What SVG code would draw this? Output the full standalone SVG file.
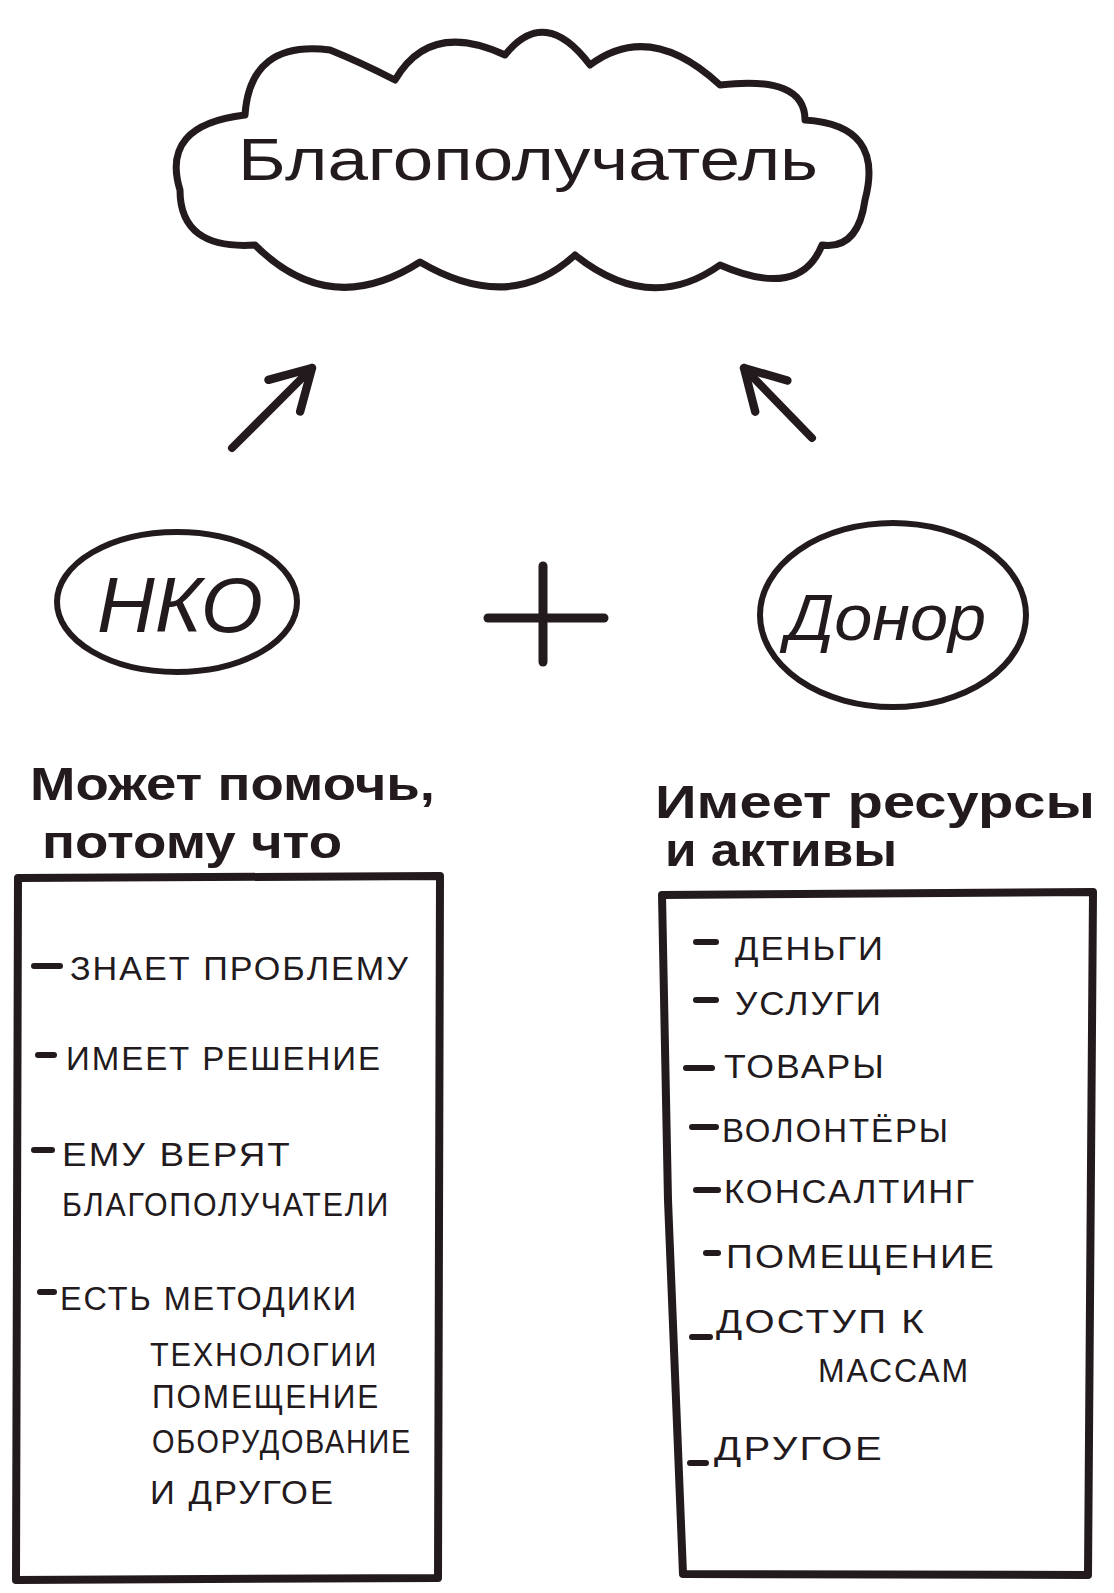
<svg xmlns="http://www.w3.org/2000/svg" width="1114" height="1593" viewBox="0 0 1114 1593">
<defs>
<style>
.ink{fill:none;stroke:#221a1d;stroke-linecap:round;stroke-linejoin:round}
.t{font-family:"Liberation Sans","DejaVu Sans",sans-serif;fill:#221a1d}
.item{font-size:34px;letter-spacing:2px}
.head{font-size:46px;font-weight:bold}
.dash{stroke:#221a1d;stroke-width:6;stroke-linecap:round}
</style>
<marker id="ah" viewBox="0 0 20 20" refX="16" refY="10" markerWidth="7" markerHeight="7" orient="auto" markerUnits="strokeWidth">
<path d="M2,2 L16,10 L2,18" fill="none" stroke="#221a1d" stroke-width="3" stroke-linecap="round" stroke-linejoin="round"/>
</marker>
</defs>
<rect width="1114" height="1593" fill="#ffffff"/>

<g id="cloud">
<path class="ink" stroke-width="7" d="M180,190 Q160,125 245,115 Q250,40 330,50 Q360,62 395,80 Q430,20 505,55 Q545,5 590,65 Q650,20 720,85 Q805,75 805,120 Q885,125 865,200 Q858,250 822,245 Q800,300 720,265 Q650,315 575,255 Q510,315 420,262 Q330,320 255,245 Q180,250 180,190 Z"/>
<text class="t" x="238" y="180" font-size="60" textLength="580" lengthAdjust="spacingAndGlyphs">Благополучатель</text>
</g>

<g id="connectors">
<line class="ink" stroke-width="8" x1="232" y1="448" x2="312" y2="368" marker-end="url(#ah)"/>
<line class="ink" stroke-width="8" x1="812" y1="438" x2="744" y2="368" marker-end="url(#ah)"/>
</g>

<g id="nko">
<ellipse class="ink" stroke-width="6" cx="177" cy="602" rx="120" ry="70"/>
<text class="t" x="97" y="632" font-size="78" textLength="166" lengthAdjust="spacingAndGlyphs" font-style="italic">НКО</text>
</g>

<g id="plus">
<line class="ink" stroke-width="9" x1="488" y1="618" x2="604" y2="618"/>
<line class="ink" stroke-width="9" x1="543" y1="566" x2="543" y2="662"/>
</g>

<g id="donor">
<ellipse class="ink" stroke-width="6" cx="893" cy="615" rx="133" ry="92"/>
<text class="t" x="786" y="640" font-size="64" textLength="200" lengthAdjust="spacingAndGlyphs" font-style="italic">Донор</text>
</g>

<g id="left-list">
<text class="t head" x="30" y="800" textLength="405" lengthAdjust="spacingAndGlyphs">Может помочь,</text>
<text class="t head" x="42" y="858" textLength="300" lengthAdjust="spacingAndGlyphs">потому что</text>
<path class="ink" stroke-width="8" d="M18,878 L440,876 L438,1578 L16,1580 Z"/>
<line class="dash" x1="34" y1="966" x2="60" y2="966"/>
<text class="t item" x="70" y="980" textLength="340" lengthAdjust="spacingAndGlyphs">ЗНАЕТ ПРОБЛЕМУ</text>
<line class="dash" x1="38" y1="1055" x2="54" y2="1055"/>
<text class="t item" x="66" y="1070" textLength="316" lengthAdjust="spacingAndGlyphs">ИМЕЕТ РЕШЕНИЕ</text>
<line class="dash" x1="34" y1="1150" x2="52" y2="1150"/>
<text class="t item" x="62" y="1166" textLength="230" lengthAdjust="spacingAndGlyphs">ЕМУ ВЕРЯТ</text>
<text class="t item" x="62" y="1216" textLength="328" lengthAdjust="spacingAndGlyphs">БЛАГОПОЛУЧАТЕЛИ</text>
<line class="dash" x1="40" y1="1292" x2="54" y2="1292"/>
<text class="t item" x="60" y="1310" textLength="298" lengthAdjust="spacingAndGlyphs">ЕСТЬ МЕТОДИКИ</text>
<text class="t item" x="150" y="1366" textLength="228" lengthAdjust="spacingAndGlyphs">ТЕХНОЛОГИИ</text>
<text class="t item" x="152" y="1408" textLength="228" lengthAdjust="spacingAndGlyphs">ПОМЕЩЕНИЕ</text>
<text class="t item" x="152" y="1453" textLength="260" lengthAdjust="spacingAndGlyphs">ОБОРУДОВАНИЕ</text>
<text class="t item" x="150" y="1504" textLength="185" lengthAdjust="spacingAndGlyphs">И ДРУГОЕ</text>
</g>

<g id="right-list">
<text class="t head" x="655" y="818" textLength="440" lengthAdjust="spacingAndGlyphs">Имеет ресурсы</text>
<text class="t head" x="665" y="866" textLength="232" lengthAdjust="spacingAndGlyphs">и активы</text>
<path class="ink" stroke-width="8" d="M662,895 L1093,892 L1088,1575 L683,1574 L668,1200 Z"/>
<line class="dash" x1="696" y1="942" x2="716" y2="942"/>
<text class="t item" x="735" y="960" textLength="150" lengthAdjust="spacingAndGlyphs">ДЕНЬГИ</text>
<line class="dash" x1="696" y1="1000" x2="716" y2="1000"/>
<text class="t item" x="735" y="1015" textLength="148" lengthAdjust="spacingAndGlyphs">УСЛУГИ</text>
<line class="dash" x1="686" y1="1068" x2="712" y2="1068"/>
<text class="t item" x="724" y="1078" textLength="162" lengthAdjust="spacingAndGlyphs">ТОВАРЫ</text>
<line class="dash" x1="692" y1="1127" x2="716" y2="1127"/>
<text class="t item" x="722" y="1142" textLength="228" lengthAdjust="spacingAndGlyphs">ВОЛОНТЁРЫ</text>
<line class="dash" x1="696" y1="1190" x2="718" y2="1190"/>
<text class="t item" x="724" y="1203" textLength="252" lengthAdjust="spacingAndGlyphs">КОНСАЛТИНГ</text>
<line class="dash" x1="706" y1="1253" x2="718" y2="1253"/>
<text class="t item" x="726" y="1268" textLength="270" lengthAdjust="spacingAndGlyphs">ПОМЕЩЕНИЕ</text>
<line class="dash" x1="692" y1="1337" x2="710" y2="1337"/>
<text class="t item" x="716" y="1333" textLength="210" lengthAdjust="spacingAndGlyphs">ДОСТУП К</text>
<text class="t item" x="818" y="1382" textLength="152" lengthAdjust="spacingAndGlyphs">МАССАМ</text>
<line class="dash" x1="690" y1="1463" x2="706" y2="1463"/>
<text class="t item" x="714" y="1460" textLength="170" lengthAdjust="spacingAndGlyphs">ДРУГОЕ</text>
</g>
</svg>
